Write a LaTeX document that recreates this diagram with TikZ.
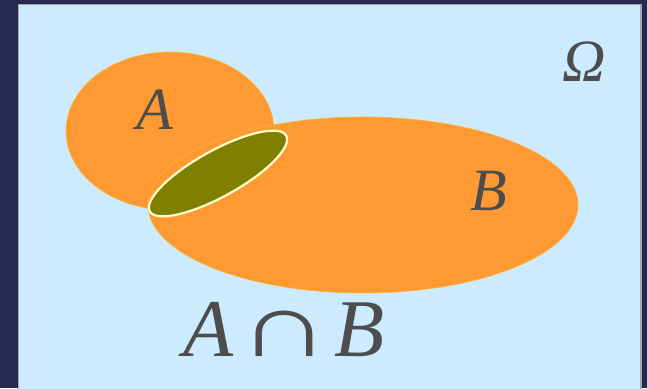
\documentclass[tikz,border=0pt]{standalone}
\usepackage{fontspec}
\setmainfont{Liberation Serif}
\usepackage{xcolor}
\usepackage{graphicx}
\usetikzlibrary{positioning}
\definecolor{frameDark}{HTML}{262850}
\definecolor{skyBlue}{HTML}{CCEBFF}
\definecolor{setOrange}{HTML}{FF9933}
\definecolor{setEdge}{HTML}{FFB52E}
\definecolor{meetOlive}{HTML}{808000}
\definecolor{meetEdge}{HTML}{FFFFCC}
\definecolor{labelGray}{HTML}{4D4D4D}

\begin{document}
\begin{tikzpicture}[x=1pt, y=-1pt,
  setlabel/.style={text=labelGray, inner sep=0pt, font=\fontsize{60}{62}\selectfont\itshape},
  setfill/.style={fill=setOrange, draw=setEdge, line width=0.6pt}]
\useasboundingbox (0,0) rectangle (647,388);
\fill[frameDark] (0,0) rectangle (647,388);
\fill[skyBlue, draw=gray!70, line width=1.5pt] (18.5,4.5) rectangle (641,392);
% the two sets
\fill[setfill] (170,131) ellipse [x radius=104pt, y radius=79pt];
\fill[setfill] (363,205) ellipse [x radius=215pt, y radius=88pt];
% their intersection
\begin{scope}[shift={(218,173.5)}, rotate=29]
\filldraw[fill=meetOlive, draw=meetEdge, line width=2.2pt] (0,0) ellipse [x radius=78pt, y radius=23pt];
\end{scope}
\node[setlabel] (setA) at (155,110) {A};
\node[setlabel] (setB) at (489,191) {B};
\node[setlabel] (omega) at (584,62) {Ω};
\node[setlabel, font=\fontsize{82}{86}\selectfont, anchor=base] (meet) at (284,356)
  {\textit{A}\hspace{5pt}\scalebox{1.55}[1.1]{∩}\hspace{4pt}\textit{B}};
\end{tikzpicture}
\end{document}
